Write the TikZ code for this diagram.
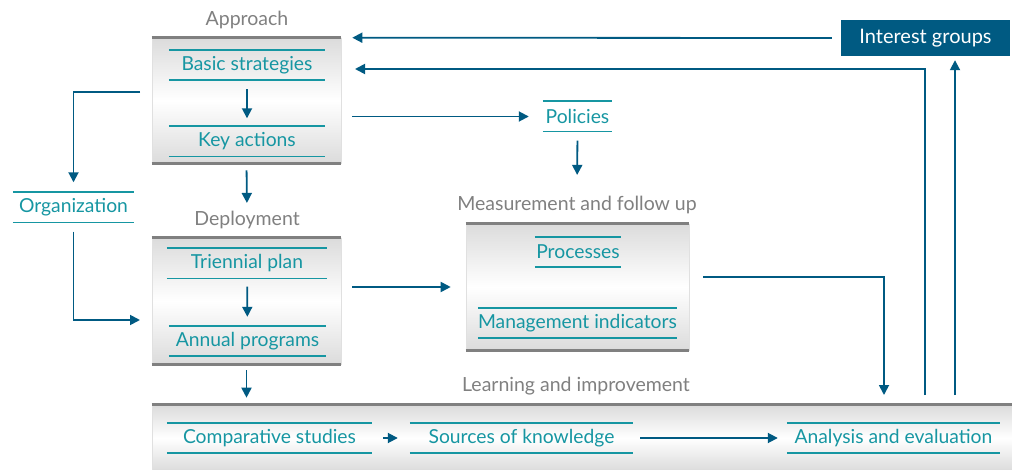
\documentclass[tikz,border=0pt]{standalone}
\usepackage{fontspec}
\setmainfont{Lato}
\usetikzlibrary{arrows.meta}
\definecolor{itemcol}{RGB}{22,150,162}
\definecolor{flowcol}{RGB}{0,90,130}
\definecolor{stagecol}{RGB}{128,128,128}
\tikzstyle{item}=[text=itemcol,font=\fontsize{19.3}{22}\selectfont,inner sep=0pt,minimum height=30pt]
\tikzstyle{itemrule}=[draw=itemcol,line width=1.6pt]
\tikzstyle{stage}=[text=stagecol,font=\fontsize{19.5}{22}\selectfont,inner sep=1pt]
\tikzstyle{panel}=[top color=black!14,bottom color=black!14,middle color=white,draw=black!12,line width=0.6pt,inner sep=0pt]
\tikzstyle{panelrule}=[draw=black!50,line width=3pt]
\tikzstyle{link}=[draw=flowcol,line width=1.8pt]
\tikzstyle{flow}=[link,-{Triangle[length=10pt,width=10pt]}]
\tikzstyle{banner}=[fill=flowcol,text=white,font=\fontsize{20}{22}\selectfont,minimum width=169pt,minimum height=36pt,inner sep=0pt]

\begin{document}
\begin{tikzpicture}[x=1pt,y=-1pt]
\useasboundingbox (0,0) rectangle (1012,470);

% Panels
\foreach \pos/\name/\w/\h in {{(246.5,100.5)/approach/189/125},{(246.5,301)/deploy/189/126},
  {(577.5,287)/meas/223/126},{(582,438)/learn/860/66}}
  \node[panel,minimum width=\w pt,minimum height=\h pt] (\name) at \pos {};
\foreach \name in {approach,deploy,meas}
  \draw[panelrule] (\name.north west) -- (\name.north east) (\name.south west) -- (\name.south east);
\draw[panelrule] (learn.north west) -- (learn.north east);

% Stage labels
\node[stage] (approachlabel) at (247,20) {Approach};
\node[stage] (deploylabel) at (247,220) {Deployment};
\node[stage] (measlabel) at (577,205) {Measurement and follow up};
\node[stage] (learnlabel) at (576,386) {Learning and improvement};

% Items
\foreach \pos/\name/\w/\txt in {{(247,65)/basic/156/Basic strategies},{(247,141.5)/key/156/Key actions},
  {(247,263.5)/triennial/160/Triennial plan},{(247.5,341)/annual/157/Annual programs},
  {(73.5,207.5)/org/121/Organization},{(577.5,116.5)/policies/69/Policies},
  {(578,252)/processes/86/Processes},{(577.5,323)/mgmt/195/Management indicators},
  {(269.5,438)/comp/205/Comparative studies},{(521.5,438)/sources/223/Sources of knowledge},
  {(893.5,438)/analysis/213/Analysis and evaluation}}
  \node[item,minimum width=\w pt] (\name) at \pos {\txt};
\foreach \name in {basic,key,triennial,annual,org,policies,processes,mgmt,comp,sources,analysis}
  \draw[itemrule] (\name.north west) -- (\name.north east) (\name.south west) -- (\name.south east);

\node[banner] (interest) at (925.5,38) {Interest groups};

% Free ends
\coordinate (orgtap) at (140,92);
\coordinate (deploytap) at (140,320);
\coordinate (measout) at (703,277);
\coordinate (evalin) at (884,395);
\coordinate (reviewout) at (925,395);
\coordinate (basicin) at (355,69);
\coordinate (reportout) at (955,395);

% Connectors
\draw[flow,shorten <=9pt,shorten >=11pt] (interest.west) -- (approach.north east);
\draw[flow,shorten <=9pt,shorten >=8pt] (basic) -- (key);
\draw[flow,shorten <=7pt,shorten >=7pt] (approach.south) -- (deploylabel.north);
\draw[flow,shorten >=10pt] (orgtap) -| (org.north);
\draw[flow,shorten <=9pt] (org.south) |- (deploytap);
\draw[flow,shorten <=8pt,shorten >=9pt] (triennial) -- (annual);
\draw[flow,shorten <=6pt,shorten >=7pt] (deploy.south) -- (deploy.south |- learn.north);
\draw[flow,shorten <=11pt,shorten >=14pt] (approach.east |- policies.west) -- (policies.west);
\draw[flow,shorten <=9pt,shorten >=20pt] (policies.south) -- (measlabel.north);
\draw[flow,shorten <=11pt,shorten >=15pt] (deploy.east |- meas.west) -- (meas.west);
\draw[flow] (measout) -| (evalin);
\draw[flow] (reviewout) |- (basicin);
\draw[flow,shorten >=4pt] (reportout) -- (reportout |- interest.south);
\draw[flow,shorten <=11pt,shorten >=12pt] (comp) -- (sources);
\draw[flow,shorten <=7pt,shorten >=9pt] (sources) -- (analysis);

\end{tikzpicture}
\end{document}
